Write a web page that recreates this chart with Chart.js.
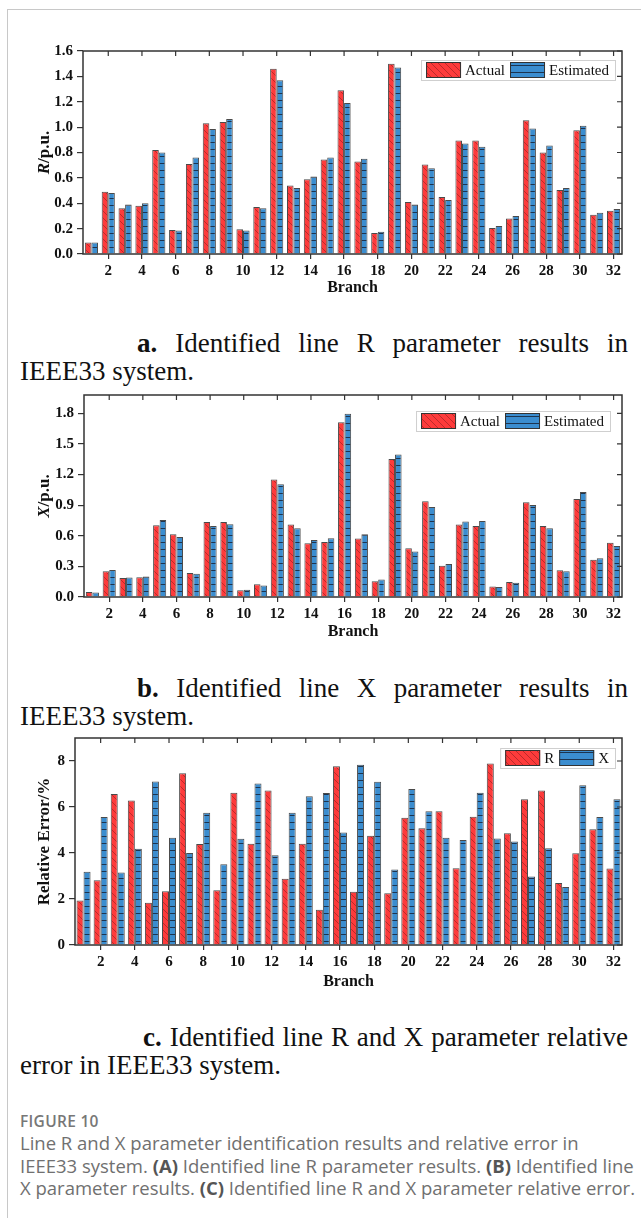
<!DOCTYPE html>
<html lang="en">
<head>
<meta charset="UTF-8" />
<title>Line R and X parameter identification results</title>
<script src="https://cdn.jsdelivr.net/npm/chart.js"></script>
<style>
  body { margin: 0; background: #fff; width: 641px; height: 1218px; position: relative; overflow: hidden; font-family: 'Liberation Serif', 'Times New Roman', serif; }
  .frame { position: absolute; left: 7px; top: 9px; width: 700px; height: 1300px; border-left: 1px solid #c8c8c8; border-top: 1px solid #c8c8c8; }
  .chart-box { position: absolute; left: 0; width: 641px; }
  .cap { position: absolute; left: 20px; width: 608px; font-size: 27px; line-height: 28px; color: #111; }
  .cap .l1 { padding-left: 117px; text-align: justify; text-align-last: justify; }
  .fig { position: absolute; left: 20px; top: 1110px; font-family: 'Open Sans', sans-serif; color: #707070; white-space: nowrap; }
  .fig .head { font-size: 15.5px; font-weight: 600; line-height: 22px; color: #777; letter-spacing: 0.3px; }
  .fig .txt { font-size: 18.5px; line-height: 22.5px; }
  .fig b { color: #555; }
</style>
</head>
<body>
<div class="frame"></div>

<div class="chart-box" style="top:38px;height:262px"><canvas id="chartR" width="641" height="262"></canvas></div>
<div class="cap" style="top:329px"><div class="l1"><b>a.</b> Identified line R parameter results in</div><div>IEEE33 system.</div></div>

<div class="chart-box" style="top:382px;height:262px"><canvas id="chartX" width="641" height="262"></canvas></div>
<div class="cap" style="top:674px"><div class="l1"><b>b.</b> Identified line X parameter results in</div><div>IEEE33 system.</div></div>

<div class="chart-box" style="top:725px;height:265px"><canvas id="chartE" width="641" height="265"></canvas></div>
<div class="cap" style="top:1023px"><div class="l1" style="padding-left:123px"><b>c.</b> Identified line R and X parameter relative</div><div>error in IEEE33 system.</div></div>

<div class="fig">
  <div class="head">FIGURE 10</div>
  <div class="txt">Line R and X parameter identification results and relative error in</div>
  <div class="txt">IEEE33 system. <b>(A)</b> Identified line R parameter results. <b>(B)</b> Identified line</div>
  <div class="txt">X parameter results. <b>(C)</b> Identified line R and X parameter relative error.</div>
</div>

<script>
// branch numbers on the x axis
const branches = ['1','2','3','4','5','6','7','8','9','10','11','12','13','14','15','16',
                  '17','18','19','20','21','22','23','24','25','26','27','28','29','30','31','32'];
const shownBranchTicks = ['2','4','6','8','10','12','14','16','18','20','22','24','26','28','30','32'];

// (a) R parameter, p.u.
const rActual    = [0.09, 0.49, 0.36, 0.38, 0.82, 0.19, 0.71, 1.03, 1.04, 0.195, 0.37, 1.46, 0.54, 0.59, 0.745, 1.29,
                    0.73, 0.165, 1.50, 0.41, 0.705, 0.45, 0.895, 0.895, 0.205, 0.28, 1.055, 0.80, 0.505, 0.975, 0.31, 0.34];
const rEstimated = [0.09, 0.48, 0.39, 0.40, 0.80, 0.185, 0.76, 0.985, 1.065, 0.185, 0.36, 1.37, 0.52, 0.61, 0.76, 1.19,
                    0.75, 0.175, 1.47, 0.39, 0.675, 0.425, 0.87, 0.845, 0.22, 0.30, 0.99, 0.855, 0.52, 1.01, 0.325, 0.355];

// (b) X parameter, p.u.
const xActual    = [0.048, 0.252, 0.187, 0.194, 0.703, 0.616, 0.235, 0.735, 0.735, 0.065, 0.126, 1.152, 0.71, 0.526, 0.54, 1.713,
                    0.574, 0.155, 1.352, 0.477, 0.939, 0.306, 0.71, 0.697, 0.103, 0.148, 0.929, 0.697, 0.261, 0.961, 0.365, 0.532];
const xEstimated = [0.045, 0.265, 0.19, 0.2, 0.755, 0.587, 0.229, 0.697, 0.713, 0.071, 0.113, 1.106, 0.674, 0.558, 0.577, 1.797,
                    0.616, 0.171, 1.397, 0.445, 0.881, 0.323, 0.739, 0.745, 0.097, 0.139, 0.903, 0.674, 0.252, 1.029, 0.381, 0.5];

// (c) relative error, %
const errR = [1.94, 2.82, 6.57, 6.28, 1.84, 2.34, 7.47, 4.39, 2.38, 6.62, 4.40, 6.72, 2.88, 4.40, 1.53, 7.77,
              2.31, 4.75, 2.25, 5.53, 5.08, 5.81, 3.34, 5.58, 7.89, 4.86, 6.34, 6.72, 2.70, 3.99, 5.03, 3.33];
const errX = [3.18, 5.56, 3.15, 4.19, 7.11, 4.66, 4.00, 5.75, 3.51, 4.62, 7.02, 3.90, 5.75, 6.47, 6.61, 4.89,
              7.84, 7.10, 3.28, 6.78, 5.82, 4.66, 4.56, 6.62, 4.63, 4.50, 2.98, 4.21, 2.52, 6.95, 5.56, 6.34];

const RED = '#fd3b3b';
const BLUE = '#3b8dcf';
const SERIF = "'Liberation Serif', 'Times New Roman', serif";

function hatchPattern() {
  const c = document.createElement('canvas');
  c.width = 7; c.height = 7;
  const g = c.getContext('2d');
  g.fillStyle = RED;
  g.fillRect(0, 0, 7, 7);
  g.strokeStyle = 'rgba(120,25,25,0.7)';
  g.lineWidth = 0.7;
  g.beginPath();
  g.moveTo(-1, -1); g.lineTo(8, 8);
  g.moveTo(-1, 6); g.lineTo(1, 8);
  g.moveTo(6, -1); g.lineTo(8, 1);
  g.stroke();
  return g.createPattern(c, 'repeat');
}

function stripePattern() {
  const c = document.createElement('canvas');
  c.width = 7; c.height = 7;
  const g = c.getContext('2d');
  g.fillStyle = BLUE;
  g.fillRect(0, 0, 7, 7);
  g.fillStyle = '#1c3450';
  g.fillRect(0, 6, 7, 1);
  return g.createPattern(c, 'repeat');
}

const redFill = hatchPattern();
const blueFill = stripePattern();

// box, inward ticks, y title, Branch title, legend
const framePlugin = {
  id: 'frame',
  afterDraw(chart, args, o) {
    const { ctx, chartArea: a, scales } = chart;
    ctx.save();
    ctx.strokeStyle = '#333';
    ctx.lineWidth = 1.5;
    ctx.strokeRect(a.left, a.top, a.right - a.left, a.bottom - a.top);

    ctx.lineWidth = 1.2;
    ctx.beginPath();
    scales.x.ticks.forEach((t, i) => {
      if (shownBranchTicks.includes(branches[i])) {
        const x = scales.x.getPixelForTick(i);
        ctx.moveTo(x, a.top);
        ctx.lineTo(x, a.top + 5);
      }
    });
    scales.y.ticks.forEach((t, i) => {
      const y = scales.y.getPixelForTick(i);
      ctx.moveTo(a.right, y);
      ctx.lineTo(a.right - 5, y);
    });
    ctx.stroke();

    // y axis title with mixed styles
    ctx.fillStyle = '#111';
    ctx.textBaseline = 'middle';
    ctx.save();
    ctx.translate(o.titleX, (a.top + a.bottom) / 2);
    ctx.rotate(-Math.PI / 2);
    let total = 0;
    o.yTitle.forEach(p => {
      ctx.font = (p.italic ? 'italic ' : '') + 'bold 17px ' + SERIF;
      p.w = ctx.measureText(p.text).width;
      total += p.w;
    });
    let cx = -total / 2;
    ctx.textAlign = 'left';
    o.yTitle.forEach(p => {
      ctx.font = (p.italic ? 'italic ' : '') + 'bold 17px ' + SERIF;
      ctx.fillText(p.text, cx, 0);
      cx += p.w;
    });
    ctx.restore();

    ctx.font = 'bold 16px ' + SERIF;
    ctx.textAlign = 'center';
    ctx.fillText('Branch', (a.left + a.right) / 2, a.bottom + o.branchDy);

    // legend
    ctx.font = '15px ' + SERIF;
    const sw = 35, sh = 16;
    const items = chart.data.datasets.map(d => ({ label: d.label, fill: d.backgroundColor, w: ctx.measureText(d.label).width }));
    let width = 5;
    items.forEach((it, i) => { width += sw + 4 + it.w + (i < items.length - 1 ? 5 : 6); });
    const bx = a.right - o.legend.right - width;
    const by = a.top + o.legend.top;
    ctx.fillStyle = '#fff';
    ctx.fillRect(bx, by, width, 20);
    ctx.strokeStyle = '#cfcfcf';
    ctx.lineWidth = 1;
    ctx.strokeRect(bx + 0.5, by + 0.5, width, 20);
    let lx = bx + 5;
    items.forEach(it => {
      ctx.fillStyle = it.fill;
      ctx.fillRect(lx, by + 2, sw, sh);
      ctx.strokeStyle = '#333';
      ctx.strokeRect(lx + 0.5, by + 2.5, sw - 1, sh - 1);
      ctx.fillStyle = '#111';
      ctx.textAlign = 'left';
      ctx.fillText(it.label, lx + sw + 4, by + 11);
      lx += sw + 4 + it.w + 5;
    });
    ctx.restore();
  }
};

function makeChart(id, cfg) {
  const tickFont = { family: SERIF, size: 15, weight: 'bold' };
  return new Chart(document.getElementById(id), {
    type: 'bar',
    data: {
      labels: branches,
      datasets: [
        { label: cfg.names[0], data: cfg.red, backgroundColor: redFill, borderColor: '#4a4a4a', borderWidth: 1 },
        { label: cfg.names[1], data: cfg.blue, backgroundColor: blueFill, borderColor: '#4a4a4a', borderWidth: 1 }
      ]
    },
    options: {
      responsive: false,
      animation: false,
      devicePixelRatio: 1,
      layout: { padding: { left: 0, right: 19, top: 10, bottom: 0 } },
      datasets: { bar: { categoryPercentage: cfg.catPct, barPercentage: 1 } },
      plugins: {
        legend: { display: false },
        tooltip: { enabled: false },
        frame: { titleX: cfg.titleX, yTitle: cfg.yTitle, branchDy: cfg.branchDy, legend: cfg.legend }
      },
      scales: {
        x: {
          offset: true,
          afterFit: s => { s.height = cfg.xHeight; },
          grid: {
            offset: false,
            drawOnChartArea: false,
            tickLength: 5,
            lineWidth: 1.2,
            color: c => shownBranchTicks.includes(branches[c.index]) ? '#333' : 'rgba(0,0,0,0)'
          },
          border: { display: false },
          ticks: {
            autoSkip: false, maxRotation: 0, padding: 3, color: '#111', font: tickFont,
            callback: (v, i) => shownBranchTicks.includes(branches[i]) ? branches[i] : ''
          }
        },
        y: {
          min: 0,
          max: cfg.yMax,
          afterFit: s => { s.width = cfg.yWidth; },
          afterBuildTicks: s => {
            s.ticks = s.ticks.filter(t => Math.abs(t.value / cfg.yStep - Math.round(t.value / cfg.yStep)) < 1e-6);
          },
          grid: { drawOnChartArea: false, tickLength: 6, lineWidth: 1.2, color: '#333' },
          border: { display: false },
          ticks: {
            stepSize: cfg.yStep, padding: 4, color: '#111', font: tickFont,
            callback: v => v.toFixed(cfg.decimals)
          }
        }
      }
    },
    plugins: [framePlugin]
  });
}

makeChart('chartR', {
  red: rActual, blue: rEstimated, names: ['Actual', 'Estimated'],
  yMax: 1.6, yStep: 0.2, decimals: 1, yWidth: 83, xHeight: 46, catPct: 0.78,
  titleX: 45, yTitle: [{ text: 'R', italic: true }, { text: '/p.u.' }], branchDy: 34,
  legend: { right: 7, top: 9 }
});

makeChart('chartX', {
  red: xActual, blue: xEstimated, names: ['Actual', 'Estimated'],
  yMax: 1.98, yStep: 0.3, decimals: 1, yWidth: 84, xHeight: 47, catPct: 0.78,
  titleX: 45, yTitle: [{ text: 'X', italic: true }, { text: '/p.u.' }], branchDy: 35,
  legend: { right: 12, top: 16 }
});

makeChart('chartE', {
  red: errR, blue: errX, names: ['R', 'X'],
  yMax: 9, yStep: 2, decimals: 0, yWidth: 75, xHeight: 45, catPct: 0.82,
  titleX: 45, yTitle: [{ text: 'Relative Error/%' }], branchDy: 37,
  legend: { right: 7, top: 10 }
});
</script>
</body>
</html>
